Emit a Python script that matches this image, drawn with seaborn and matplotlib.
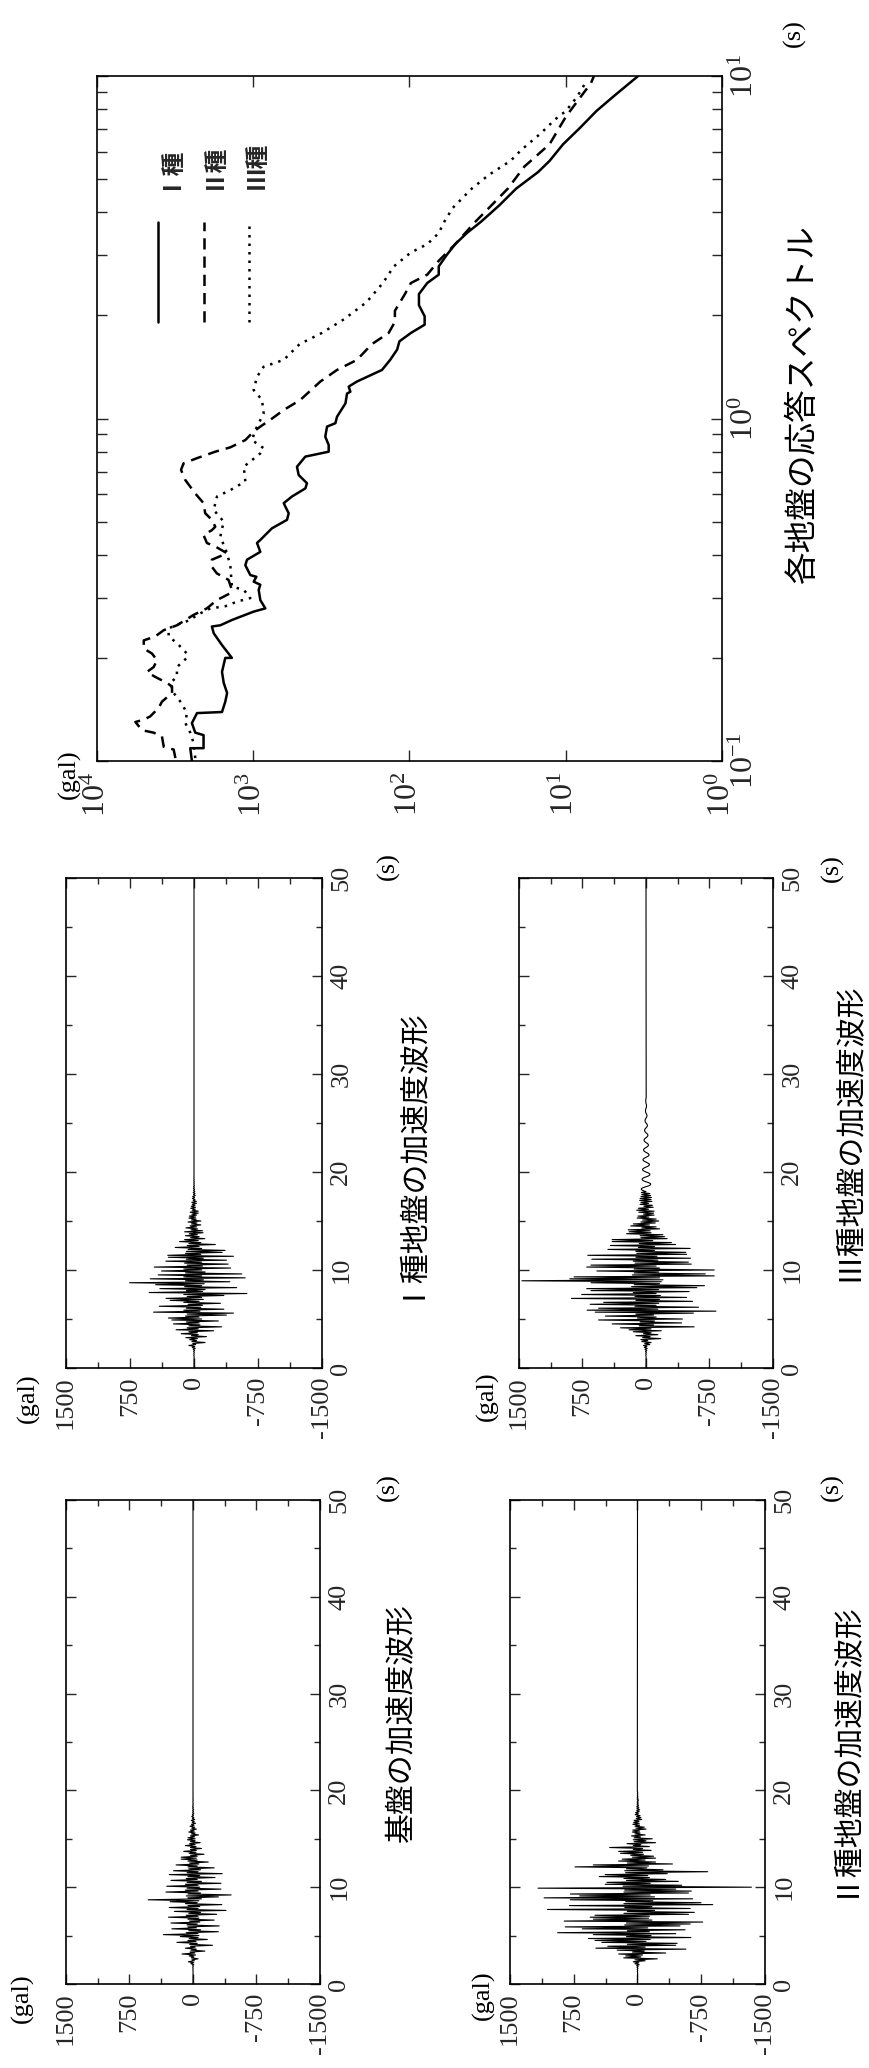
import numpy as np
import pandas as pd
import matplotlib
matplotlib.use("Agg")
import matplotlib.pyplot as plt
from matplotlib.ticker import LogLocator, NullLocator, LogFormatterMathtext
from matplotlib.lines import Line2D
import seaborn as sns

sns.set_style("ticks")
plt.rcParams["font.family"] = ["Liberation Serif", "Noto Sans CJK JP", "DejaVu Sans"]
plt.rcParams["mathtext.fontset"] = "custom"
plt.rcParams["mathtext.rm"] = "Liberation Serif"
plt.rcParams["mathtext.it"] = "Liberation Serif:italic"
plt.rcParams["axes.unicode_minus"] = False
JP = ["Noto Sans CJK JP", "DejaVu Sans"]

# ---------------- data ----------------
DT = 0.1          # sample step of the acceleration records (s)
T_END = 50.0      # record length (s)

AMP_TICKS = [1500, 750, 0, -750, -1500]
AMP_MINOR = [1125, 375, -375, -1125]
TIME_TICKS = [0, 10, 20, 30, 40, 50]
TIME_MINOR = [5, 15, 25, 35, 45]

# bedrock acceleration (gal), one row per second
ACC_BEDROCK = [
    0, 0, 0, 0, 0, 0, 0, 0, 0, 0,
    0, 1, -1, 1, -1, 2, -2, 3, -3, 4,
    -10, 25, -8, 55, -15, 12, -60, 20, -10, 45,
    -30, 130, -20, 35, -140, 25, -40, 90, -25, 30,
    -230, 40, -50, 190, -35, 60, -170, 45, -60, 150,
    -70, 350, -60, 80, -300, 50, -90, 250, -40, 60,
    -310, 70, -50, 260, -80, 40, -250, 60, -70, 290,
    -60, 80, -280, 50, -90, 220, -390, 70, -60, 280,
    -80, 60, -340, 90, -50, 270, -70, 530, -100, 60,
    -300, 80, -450, 60, -90, 320, -60, 90, -330, 70,
    -80, 310, -60, 90, -330, 70, -100, 260, -50, 80,
    -260, 60, -80, 280, -345, 70, -60, 230, -90, 50,
    -250, 60, -50, 200, -70, 40, -180, 60, -50, 140,
    -40, 140, -50, 30, -130, 45, -35, 110, -40, 30,
    -100, 30, -35, 90, -25, 40, -85, 30, -25, 65,
    -25, 60, -20, 30, -65, 20, -25, 50, -15, 30,
    -40, 15, -20, 35, -12, 18, -30, 10, -15, 20,
    -20, 8, -10, 15, -6, 8, -10, 5, -6, 5,
    -8, 4, -5, 6, -3, 3, -4, 2, -2, 2,
    -3, 2, -2, 1, -1, 1, -1, 1, -1, 0,
]

# type I ground
ACC_TYPE1 = [
    0, 0, 0, 0, 0, 0, 0, 0, 0, 0,
    0, 1, -1, 2, -2, 3, -4, 5, -8, 10,
    -15, 20, -10, 60, -20, 15, -130, 25, -30, 50,
    -40, 95, -146, 30, -50, 150, -40, 60, -230, 210,
    -50, 80, -324, 60, -70, 240, -60, 90, -285, 260,
    -90, 300, -60, 100, -380, 80, -462, 474, -70, 120,
    -350, 90, -80, 407, -100, 70, -310, 120, -60, 280,
    -110, 328, -90, 80, -350, 120, -620, 525, -100, 90,
    -130, 400, -500, 110, -90, 450, -120, 755, -420, 100,
    -110, 514, -600, 120, -90, 420, -560, 100, -130, 380,
    -90, 120, -430, 466, -100, 80, -400, 110, -90, 330,
    -380, 90, -110, 300, -462, 308, -80, 100, -330, 90,
    -364, 70, -90, 220, -60, 80, -250, 60, -80, 170,
    -50, 110, -126, 40, -60, 100, -40, 55, -106, 110,
    -100, 35, -40, 95, -30, 45, -80, 30, -35, 70,
    -80, 30, -25, 60, -20, 55, -30, 25, -50, 45,
    -50, 20, -15, 38, -18, 32, -12, 20, -28, 26,
    -28, 10, -12, 20, -8, 16, -15, 6, -12, 10,
    -10, 5, -8, 7, -4, 6, -5, 3, -4, 4,
    -4, 3, -3, 2, -2, 2, -1, 1, -1, 0,
]

# type II ground
ACC_TYPE2 = [
    0, 0, 0, 0, 0, 0, 0, 0, 0, 0,
    0, 1, -1, 2, -3, 4, -5, 6, -8, 10,
    -20, 30, -15, 50, -90, 30, -233, 162, -40, 140,
    -60, 221, -332, 60, -80, 240, -569, 490, -90, 350,
    -450, 120, -466, 420, -100, 500, -150, 577, -628, 130,
    -160, 520, -450, 940, -140, 120, -560, 650, -120, 850,
    -500, 150, -620, 130, -767, 862, -170, 520, -130, 557,
    -140, 500, -600, 160, -668, 120, -200, 1059, -620, 150,
    -170, 800, -885, 160, -747, 140, -180, 790, -648, 1099,
    -200, 680, -150, 790, -600, 160, -632, 150, -450, 1170,
    -1340, 170, -520, 380, -150, 360, -480, 130, -332, 160,
    -140, 450, -120, 380, -350, 140, -826, 150, -300, 130,
    -110, 735, -130, 520, -411, 120, -213, 222, -90, 180,
    -213, 60, -190, 80, -70, 200, -60, 222, -160, 50,
    -60, 328, -140, 50, -40, 123, -213, 40, -100, 50,
    -174, 40, -35, 70, -90, 30, -30, 60, -25, 55,
    -100, 20, -80, 30, -25, 55, -20, 45, -18, 40,
    -50, 15, -40, 12, -30, 28, -10, 22, -20, 10,
    -25, 8, -16, 10, -14, 6, -10, 5, -9, 4,
    -12, 5, -6, 4, -5, 3, -4, 2, -3, 2,
]

# type III ground (long-period tail after 18 s)
ACC_TYPE3 = [
    0, 0, 0, 0, 0, 0, 0, 0, 0, 0,
    0, 1, -1, 2, -3, 4, -5, 6, -10, 12,
    -15, 20, -10, 30, -45, 15, -60, 50, -20, 60,
    -174, 40, -50, 120, -140, 30, -60, 150, -180, 200,
    -60, 300, -569, 80, -90, 400, -420, 70, -100, 560,
    -430, 100, -120, 480, -90, 120, -560, 600, -826, 696,
    -140, 560, -620, 130, -120, 660, -150, 500, -550, 120,
    -160, 881, -480, 130, -170, 760, -120, 150, -510, 650,
    -150, 700, -600, 170, -690, 140, -160, 650, -180, 1466,
    -200, 900, -160, 850, -806, 160, -700, 140, -150, 580,
    -806, 140, -160, 700, -120, 650, -535, 130, -500, 150,
    -140, 640, -525, 120, -130, 688, -480, 110, -470, 120,
    -100, 450, -522, 90, -100, 420, -350, 80, -300, 400,
    -80, 400, -250, 60, -220, 70, -200, 230, -60, 200,
    -50, 210, -160, 50, -120, 180, -40, 150, -110, 60,
    -150, 40, -120, 105, -35, 95, -95, 30, -90, 85,
    -95, 110, -30, 90, -85, 25, -75, 70, -30, 60,
    -70, 75, -60, 70, -65, 60, -55, 50, -45, 55,
    0, 35, 55, 55, 35, 0, -35, -55, -55, -35,
    0, 30, 45, 45, 30, 0, -30, -45, -45, -30,
    0, 25, 40, 40, 25, 0, -25, -40, -40, -25,
    0, 22, 35, 35, 22, 0, -22, -35, -35, -22,
    0, 18, 28, 28, 18, 0, -18, -28, -28, -18,
    0, 14, 22, 22, 14, 0, -14, -22, -22, -14,
    0, 10, 16, 16, 10, 0, -10, -16, -16, -10,
    0, 7, 11, 11, 7, 0, -7, -11, -11, -7,
    0, 4, 6, 6, 4, 0, -4, -6, -6, -4,
    0, 2, 3, 3, 2, 0, -2, -3, -3, -2,
]

# response spectra: period (s) and spectral acceleration (gal)
T_TYPE1 = [0.100, 0.109, 0.109, 0.119, 0.121, 0.129, 0.138, 0.139, 0.149, 0.158,
           0.169, 0.182, 0.200, 0.200, 0.206, 0.218, 0.236, 0.247, 0.249, 0.258,
           0.273, 0.279, 0.295, 0.316, 0.327, 0.334, 0.345, 0.349, 0.373, 0.387,
           0.408, 0.433, 0.442, 0.478, 0.506, 0.529, 0.553, 0.566, 0.592, 0.625,
           0.647, 0.684, 0.723, 0.774, 0.800, 0.837, 0.885, 0.947, 0.969, 1.012,
           1.107, 1.183, 1.197, 1.239, 1.282, 1.386, 1.483, 1.589, 1.680, 1.777,
           1.879, 1.988, 2.142, 2.308, 2.486, 2.630, 2.780, 2.996, 3.228, 3.478,
           3.748, 4.193, 4.688, 5.246, 5.65, 6.32, 7.06, 7.91, 8.84, 10.0]
SA_TYPE1 = [2470, 2530, 2080, 2080, 2350, 2470, 2290, 1585, 1510, 1470,
            1545, 1585, 1510, 1370, 1440, 1585, 1790, 1840, 1625, 1370,
            994, 837, 901, 923, 901, 994, 955, 1044, 1124, 1096,
            901, 946, 901, 759, 608, 593, 623, 638, 565, 464,
            453, 512, 525, 464, 329, 329, 346, 337, 298, 291,
            257, 251, 239, 245, 217, 150, 133, 120, 116, 98,
            80, 80, 87, 87, 77, 65, 65, 58, 51, 43,
            35, 26.6, 20.8, 15.0, 12.7, 10.4, 8.1, 6.35, 4.77, 3.44]

T_TYPE2 = [0.102, 0.108, 0.110, 0.118, 0.121, 0.123, 0.130, 0.132, 0.135, 0.143,
           0.149, 0.158, 0.165, 0.169, 0.176, 0.182, 0.188, 0.197, 0.206, 0.213,
           0.225, 0.231, 0.241, 0.249, 0.258, 0.267, 0.279, 0.295, 0.309, 0.316,
           0.338, 0.353, 0.369, 0.387, 0.404, 0.423, 0.433, 0.457, 0.472, 0.483,
           0.506, 0.529, 0.566, 0.604, 0.661, 0.708, 0.740, 0.766, 0.800, 0.824,
           0.865, 0.916, 0.947, 0.991, 1.059, 1.133, 1.282, 1.386, 1.483, 1.649,
           1.777, 1.914, 2.063, 2.308, 2.486, 2.630, 2.887, 3.228, 3.748, 4.688,
           5.44, 6.32, 7.62, 9.53, 10.0]
SA_TYPE2 = [3150, 3230, 3740, 3840, 4340, 5150, 5680, 5020, 4560, 4030,
            3840, 3310, 3310, 3565, 4240, 4790, 4340, 4130, 4450, 5020,
            5020, 4240, 3740, 3080, 2720, 2410, 1980, 1710, 1400, 1370,
            1440, 1710, 1840, 1840, 1470, 1750, 1980, 2080, 1840, 1750,
            1840, 2030, 2080, 2350, 2720, 2900, 2790, 2290, 1750, 1400,
            1124, 994, 901, 778, 638, 500, 372, 291, 217, 174,
            136, 124, 124, 107, 98, 77, 65, 51, 38, 23.5,
            18.4, 12.7, 9.96, 6.9, 6.6]

T_TYPE3 = [0.102, 0.113, 0.121, 0.129, 0.138, 0.147, 0.158, 0.169, 0.176, 0.188,
           0.200, 0.206, 0.221, 0.231, 0.244, 0.252, 0.258, 0.267, 0.279, 0.283,
           0.292, 0.299, 0.316, 0.323, 0.369, 0.404, 0.452, 0.500, 0.541, 0.592,
           0.618, 0.655, 0.723, 0.791, 0.819, 0.865, 0.925, 1.035, 1.133, 1.211,
           1.324, 1.416, 1.483, 1.649, 1.777, 1.950, 2.183, 2.486, 2.780, 3.053,
           3.228, 3.478, 3.748, 4.115, 4.688, 5.148, 5.65, 6.09, 6.81, 7.47,
           7.91, 8.67, 9.53]
SA_TYPE3 = [2350, 2410, 2530, 2720, 2660, 2860, 3230, 3400, 3080, 3080,
            2660, 2660, 3080, 3480, 3480, 2930, 2530, 2290, 1880, 1510,
            1270, 1044, 1150, 1370, 1400, 1470, 1625, 1546, 1792, 1706,
            1400, 1124, 1150, 901, 858, 1019, 970, 858, 879, 994,
            946, 858, 638, 505, 364, 262, 189, 148, 126, 98,
            77, 65, 60, 53, 40, 31, 22.6, 19.2, 14.4, 11.7,
            9.96, 8.5, 7.5]

GROUND_LABELS = ["Ⅰ種", "Ⅱ種", "Ⅲ種"]

# ---------------- figure ----------------
W, H = 870, 2068
fig = plt.figure(figsize=(W / 100, H / 100), dpi=100)
fig.patch.set_facecolor("white")


def fx(x):
    return x / W


def fy(y):
    return 1 - y / H


def px_axes(x0, y0, x1, y1):
    return fig.add_axes([fx(x0), fy(y1), (x1 - x0) / W, (y1 - y0) / H])


def vtext(x, y, s, size, family=None, **kw):
    kw.setdefault("ha", "center")
    kw.setdefault("va", "center")
    if family is not None:
        kw["family"] = family
    fig.text(fx(x), fy(y), s, rotation=90, fontsize=size, color="black", **kw)


def draw_wave(box, values, title, title_xy, gal_xy, s_xy):
    ax = px_axes(*box)
    acc = np.append(np.asarray(values, dtype=float), 0.0)
    t = np.append(np.arange(len(values)) * DT, T_END)
    df = pd.DataFrame({"t": t, "acc": acc})
    sns.lineplot(data=df, x="acc", y="t", orient="y", sort=False, estimator=None,
                 color="black", linewidth=0.8, ax=ax)
    ax.set_xlim(AMP_TICKS[0], AMP_TICKS[-1])
    ax.set_ylim(TIME_TICKS[0], TIME_TICKS[-1])
    ax.set_xlabel("")
    ax.set_ylabel("")
    ax.set_xticks(AMP_TICKS, labels=[str(v) for v in AMP_TICKS])
    ax.set_xticks(AMP_MINOR, minor=True)
    ax.set_yticks(TIME_TICKS, labels=[str(v) for v in TIME_TICKS])
    ax.set_yticks(TIME_MINOR, minor=True)
    ax.tick_params(axis="x", which="both", direction="in", top=True, bottom=True,
                   labelbottom=True, labelrotation=90, labelsize=19, pad=6)
    ax.tick_params(axis="y", which="both", direction="in", left=True, right=True,
                   labelleft=False, labelright=True, labelrotation=90, labelsize=19, pad=6)
    ax.tick_params(which="major", length=7, width=1.0)
    ax.tick_params(which="minor", length=4, width=1.0)
    for lbl in ax.get_yticklabels():
        lbl.set_va("center")
    for sp in ax.spines.values():
        sp.set_visible(True)
        sp.set_linewidth(1.2)
        sp.set_color("black")
    ax.set_facecolor("white")
    vtext(*title_xy, title, 21.5, family=JP)
    vtext(*gal_xy, "(gal)", 19)
    vtext(*s_xy, "(s)", 19)
    return ax


draw_wave((66, 878, 322, 1368), ACC_TYPE1, "Ⅰ種地盤の加速度波形",
          (404, 1150), (28, 1398), (388, 866))
draw_wave((519, 878, 773, 1368), ACC_TYPE3, "Ⅲ種地盤の加速度波形",
          (849, 1132), (487, 1396), (832, 868))
draw_wave((66, 1500, 320, 1984), ACC_BEDROCK, "基盤の加速度波形",
          (402, 1723), (22, 1998), (388, 1487))
draw_wave((510, 1500, 765, 1984), ACC_TYPE2, "Ⅱ種地盤の加速度波形",
          (843, 1748), (483, 1995), (832, 1487))

# ---------------- response spectra ----------------
spec = pd.concat([
    pd.DataFrame({"T": T_TYPE1, "Sa": SA_TYPE1, "ground": GROUND_LABELS[0]}),
    pd.DataFrame({"T": T_TYPE2, "Sa": SA_TYPE2, "ground": GROUND_LABELS[1]}),
    pd.DataFrame({"T": T_TYPE3, "Sa": SA_TYPE3, "ground": GROUND_LABELS[2]}),
], ignore_index=True)

DASHES = {GROUND_LABELS[0]: "", GROUND_LABELS[1]: (4.5, 2.8), GROUND_LABELS[2]: (1.0, 2.4)}

axs = px_axes(97, 76, 722, 761)
sns.lineplot(data=spec, x="Sa", y="T", hue="ground", style="ground",
             palette={g: "black" for g in GROUND_LABELS}, dashes=DASHES,
             orient="y", sort=False, estimator=None, linewidth=1.8,
             legend=False, ax=axs)
axs.set_xscale("log")
axs.set_yscale("log")
axs.set_xlim(1e4, 1e0)
axs.set_ylim(0.1, 10)
axs.set_xlabel("")
axs.set_ylabel("")
axs.xaxis.set_major_locator(LogLocator(base=10, numticks=10))
axs.xaxis.set_minor_locator(NullLocator())
axs.yaxis.set_major_locator(LogLocator(base=10, numticks=10))
axs.yaxis.set_minor_locator(LogLocator(base=10, subs=np.arange(2, 10), numticks=10))
axs.xaxis.set_major_formatter(LogFormatterMathtext())
axs.yaxis.set_major_formatter(LogFormatterMathtext())
axs.tick_params(axis="x", which="both", direction="in", top=True, bottom=True,
                labelbottom=True, labelrotation=90, labelsize=23, pad=8)
axs.tick_params(axis="y", which="both", direction="in", left=True, right=True,
                labelleft=False, labelright=True, labelrotation=90, labelsize=23, pad=6)
axs.tick_params(which="major", length=8, width=1.0)
axs.tick_params(which="minor", length=7, width=1.0)
for lbl in axs.get_yticklabels():
    lbl.set_va("center")
for sp in axs.spines.values():
    sp.set_visible(True)
    sp.set_linewidth(1.2)
    sp.set_color("black")

# legend keys drawn upright along the period axis
legend_x = [0.0976, 0.1712, 0.2432]
for xk, g in zip(legend_x, GROUND_LABELS):
    axs.add_line(Line2D([xk, xk], [0.641, 0.787], transform=axs.transAxes,
                        color="black", linewidth=1.8,
                        dashes=DASHES[g] if DASHES[g] else (None, None)))
    axs.text(xk + 0.012, 0.869, g, transform=axs.transAxes, rotation=90,
             ha="center", va="center", fontsize=17, family=JP, fontweight="bold")

vtext(803, 405, "各地盤の応答スペクトル", 23.5, family=JP)
vtext(69, 774, "(gal)", 19)
vtext(794, 33, "(s)", 19)

fig.savefig("out.png", dpi=100, facecolor="white")
